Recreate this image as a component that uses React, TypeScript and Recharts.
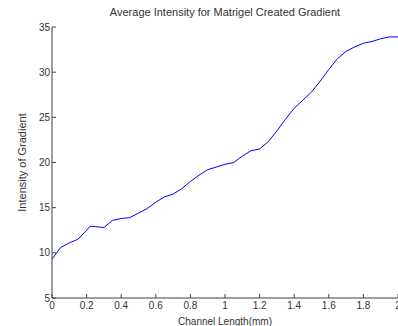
import React from 'react';
import { LineChart, Line, XAxis, YAxis, Label } from 'recharts';

const lengths = [
  0, 0.05, 0.1, 0.15, 0.2, 0.22, 0.25, 0.3, 0.35, 0.4, 0.45, 0.5, 0.55, 0.6, 0.65, 0.7,
  0.75, 0.8, 0.85, 0.9, 0.95, 1.0, 1.05, 1.1, 1.15, 1.2, 1.25, 1.3, 1.35, 1.4, 1.45,
  1.5, 1.55, 1.6, 1.65, 1.7, 1.75, 1.8, 1.85, 1.9, 1.95, 2.0,
];
const intensity = [
  9.3, 10.6, 11.1, 11.5, 12.5, 12.95, 12.9, 12.8, 13.6, 13.8, 13.9, 14.4, 14.9, 15.6,
  16.2, 16.5, 17.1, 17.9, 18.6, 19.2, 19.5, 19.8, 20.0, 20.7, 21.3, 21.5, 22.3, 23.5,
  24.8, 26.0, 26.9, 27.8, 29.0, 30.3, 31.5, 32.3, 32.8, 33.2, 33.4, 33.7, 33.9, 33.9,
];
const xTicks = [0, 0.2, 0.4, 0.6, 0.8, 1, 1.2, 1.4, 1.6, 1.8, 2];
const yTicks = [5, 10, 15, 20, 25, 30, 35];

const data = lengths.map((x, i) => ({ x, y: intensity[i] }));

const font = 'Liberation Sans, Arial, sans-serif';
const axisColor = '#404040';
const tickStyle = { fontSize: 10, fill: '#333', fontFamily: font };

const App: React.FC = () => (
  <div style={{ position: 'absolute', left: 0, top: 0, width: 398, height: 326, background: '#fff' }}>
    <div
      style={{
        position: 'absolute',
        left: 52,
        width: 346,
        top: 6,
        textAlign: 'center',
        fontFamily: font,
        fontSize: 11,
        color: '#333',
      }}
    >
      Average Intensity for Matrigel Created Gradient
    </div>
    <LineChart width={398} height={326} data={data} margin={{ top: 27, right: 0, bottom: 0, left: 0 }}>
      <XAxis
        xAxisId="top"
        orientation="top"
        dataKey="x"
        type="number"
        domain={[0, 2]}
        ticks={xTicks}
        height={0}
        tick={false}
        tickSize={-4}
        stroke={axisColor}
      />
      <XAxis
        dataKey="x"
        type="number"
        domain={[0, 2]}
        ticks={xTicks}
        interval={0}
        height={28}
        tickSize={-4}
        tickMargin={8}
        tick={tickStyle}
        stroke={axisColor}
      >
        <Label
          value="Channel Length(mm)"
          position="insideBottom"
          offset={1}
          style={{ fontSize: 10, fill: '#333', fontFamily: font }}
        />
      </XAxis>
      <YAxis
        type="number"
        domain={[5, 35]}
        ticks={yTicks}
        interval={0}
        width={52}
        tickSize={-4}
        tickMargin={6}
        tick={tickStyle}
        stroke={axisColor}
      >
        <Label
          value="Intensity of Gradient"
          angle={-90}
          position="insideLeft"
          offset={22}
          style={{ textAnchor: 'middle', fontSize: 11, fill: '#333', fontFamily: font }}
        />
      </YAxis>
      <Line
        type="linear"
        dataKey="y"
        stroke="#0000ff"
        strokeWidth={1}
        dot={false}
        isAnimationActive={false}
      />
    </LineChart>
  </div>
);

export default App;
